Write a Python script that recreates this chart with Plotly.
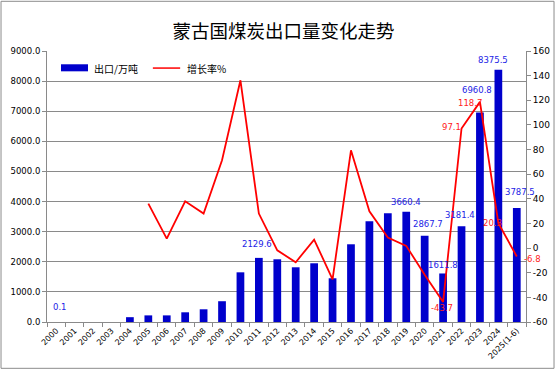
import plotly.graph_objects as go

years = ["2000", "2001", "2002", "2003", "2004", "2005", "2006", "2007", "2008", "2009",
         "2010", "2011", "2012", "2013", "2014", "2015", "2016", "2017", "2018", "2019",
         "2020", "2021", "2022", "2023", "2024", "2025(1-6)"]
exports = [0.1, 0, 0, 0, 160, 220, 220, 322, 422, 690,
           1650, 2129.6, 2083, 1817, 1950, 1452, 2581, 3345, 3611, 3660.4,
           2867.7, 1611.8, 3181.4, 6960.8, 8375.5, 3787.5]
growth = [None, None, None, None, None, 36.1, 7.7, 38.0, 28.0, 71.3,
          136.2, 28.0, -1.8, -11.5, 6.9, -25.3, 79.4, 29.9, 8.5, 1.8,
          -21.7, -43.7, 97.1, 118.7, 20.3, -6.8]

bar_label_years = ["2000", "2011", "2019", "2020", "2021", "2022", "2023", "2024", "2025(1-6)"]
line_label_years = ["2021", "2022", "2023", "2024", "2025(1-6)"]

bar_name = "出口/万吨"
line_name = "增长率%"
title = "蒙古国煤炭出口量变化走势"

left_ticks = [i * 1000 for i in range(10)]
right_ticks = list(range(-60, 161, 20))
right_tick_text = [str(v) for v in right_ticks]

BLUE = "#0000CC"
RED = "#FF0000"
GRID = "#8a8a8a"
FONT = "DejaVu Sans, Noto Sans CJK SC"
CJK = "Noto Sans CJK SC"

pos = list(range(len(years)))

fig = go.Figure()
fig.add_trace(go.Bar(x=pos, y=exports, name=bar_name, width=0.42,
                     marker=dict(color=BLUE, line=dict(width=0)), showlegend=False, hoverinfo="skip"))
fig.add_trace(go.Scatter(x=pos, y=growth, name=line_name, mode="lines", yaxis="y2",
                         line=dict(color=RED, width=1.8), connectgaps=False, showlegend=False,
                         hoverinfo="skip"))

# data labels
bar_shift = {"2000": (4, 15), "2011": (-2, 14), "2019": (0, 10), "2020": (3, 12), "2021": (0, 8),
             "2022": (-2, 11), "2023": (-3, 22), "2024": (-5, 10), "2025(1-6)": (3, 16)}
annotations = []
for yv in bar_label_years:
    i = years.index(yv)
    dx, dy = bar_shift[yv]
    annotations.append(dict(x=pos[i], y=exports[i], xref="x", yref="y", text=f"{exports[i]:.1f}",
                            showarrow=False, xshift=dx, yshift=dy,
                            font=dict(family=FONT, size=8.5, color="#2323E6")))
line_shift = {"2021": (-1, -6), "2022": (-10, 1), "2023": (-10, -1), "2024": (-6, 0), "2025(1-6)": (16, -3)}
for yv in line_label_years:
    i = years.index(yv)
    dx, dy = line_shift[yv]
    annotations.append(dict(x=pos[i], y=growth[i], xref="x", yref="y2", text=f"{growth[i]:.1f}",
                            showarrow=False, xshift=dx, yshift=dy,
                            font=dict(family=FONT, size=8.5, color="#FF2020")))

# legend (custom)
annotations.append(dict(x=0.094, y=0.937, xref="paper", yref="paper", text=bar_name, showarrow=False,
                        xanchor="left", yanchor="middle", font=dict(family=CJK, size=10, color="#000")))
annotations.append(dict(x=0.288, y=0.937, xref="paper", yref="paper", text=line_name, showarrow=False,
                        xanchor="left", yanchor="middle", font=dict(family=CJK, size=10, color="#000")))

shapes = [
    dict(type="rect", xref="paper", yref="paper", x0=0.0292, x1=0.0856, y0=0.925, y1=0.951,
         fillcolor=BLUE, line=dict(width=0)),
    dict(type="line", xref="paper", yref="paper", x0=0.221, x1=0.278, y0=0.937, y1=0.937,
         line=dict(color=RED, width=1.5)),
    dict(type="rect", xref="paper", yref="paper", x0=-0.096, x1=1.0585, y0=-0.1709, y1=1.1834,
         line=dict(color="#8c8c8c", width=1), fillcolor="rgba(0,0,0,0)", layer="below"),
]

fig.update_layout(
    width=556, height=370,
    margin=dict(l=47, r=30, t=51, b=48, autoexpand=False),
    paper_bgcolor="white", plot_bgcolor="white",
    hovermode=False,
    title=dict(text=title, x=0.51, xanchor="center", y=0.915, yanchor="middle",
               font=dict(family=CJK, size=18.5, color="#000")),
    showlegend=False,
    annotations=annotations,
    shapes=shapes,
    xaxis=dict(range=[-0.5, len(years) - 0.5], tickvals=pos, ticktext=years, tickangle=-45,
               ticks="", showline=True, linecolor=GRID, linewidth=1, showgrid=False, zeroline=False,
               minor=dict(tick0=-0.5, dtick=1, ticks="outside", ticklen=4, tickcolor=GRID, showgrid=False),
               tickfont=dict(family=FONT, size=8, color="#000")),
    yaxis=dict(range=[0, 9000], tickvals=left_ticks, tickformat=".1f", ticks="outside", ticklen=4,
               tickcolor=GRID, showline=True, linecolor=GRID, linewidth=1, showgrid=True,
               gridcolor=GRID, gridwidth=1, zeroline=False,
               tickfont=dict(family=FONT, size=8.5, color="#000")),
    yaxis2=dict(range=[-60, 160], tickvals=right_ticks, ticktext=right_tick_text, overlaying="y",
                side="right", ticks="outside",
                ticklen=4, tickcolor=GRID, showline=True, linecolor=GRID, linewidth=1, showgrid=False,
                zeroline=False, tickfont=dict(family=FONT, size=9, color="#000")),
)

fig.write_html("out.html", config={"displayModeBar": False},
               post_script="document.body.style.margin='0';document.body.style.padding='0';")
